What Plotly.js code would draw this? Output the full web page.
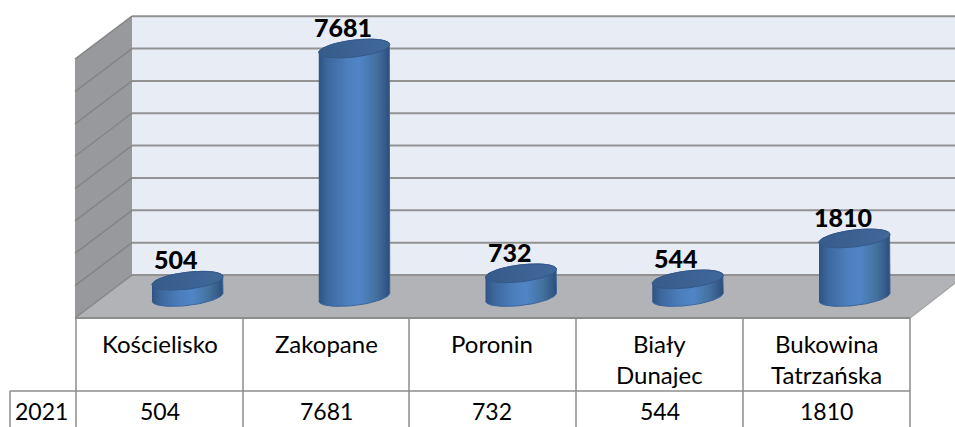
<!DOCTYPE html>
<html>
<head>
<meta charset="utf-8">
<script src="https://cdn.plot.ly/plotly-3.0.1.min.js"></script>
<style>html,body{margin:0;padding:0;background:#fff}#chart{width:955px;height:427px}</style>
</head>
<body>
<div id="chart"></div>
<script>
// ---- data ----
const categories = ["Kościelisko", "Zakopane", "Poronin", "Biały\nDunajec", "Bukowina\nTatrzańska"];
const seriesName = "2021";
const values = [504, 7681, 732, 544, 1810];
const gridValues = [0, 1000, 2000, 3000, 4000, 5000, 6000, 7000, 8000];

// ---- geometry (pixels) ----
const W = 955, H = 427;
const firstBarPx = 187.5, slotPx = 166.75, zeroPx = 297, pxPer1000 = 32.35;
const backFloorPx = 275, wallLeftPx = 132, frontLeftPx = 75, frontRightPx = 910, frontPx = 318;
const tableMidPx = 391, tableLeftPx = 10;
const rx = 35.5, ry = 8.5, tilt = 4;
const colLines = [76, 243, 409, 576, 743, 910];
const FONT = "Lato, Carlito, Calibri, sans-serif";

const unitsPerPx = 1000 / pxPer1000;
const px = p => p / W;             // paper x
const py = p => 1 - p / H;         // paper y
const xOff = p => p / slotPx;      // px -> x units
const yOff = p => p * unitsPerPx;  // px -> y units

const ellipse = (cx, cy, from, to, n) => {
  const xs = [], ys = [];
  for (let i = 0; i <= n; i++) {
    const t = (from + (to - from) * i / n) * Math.PI / 180;
    xs.push(cx + xOff(rx * Math.cos(t)));
    ys.push(cy + yOff(ry * Math.sin(t) + tilt * Math.cos(t)));
  }
  return [xs, ys];
};

const traces = [];
values.forEach((v, i) => {
  const [bx, by] = ellipse(i, 0, 180, 360, 40);
  const [tx, ty] = ellipse(i, v, 0, 180, 40);
  traces.push({
    type: "scatter", mode: "lines", name: seriesName, x: bx.concat(tx), y: by.concat(ty),
    fill: "toself", hoverinfo: "skip", showlegend: false,
    line: {color: "#3a659b", width: 1},
    fillgradient: {type: "horizontal", colorscale: [
      [0, "#2e5382"], [0.12, "#3c679d"], [0.4, "#4d7fbd"], [0.58, "#5084c5"],
      [0.8, "#44729f"], [0.93, "#365c8b"], [1, "#2b4d78"]]}
  });
  const [cx, cy] = ellipse(i, v, 0, 360, 60);
  traces.push({
    type: "scatter", mode: "lines", x: cx, y: cy, fill: "toself",
    hoverinfo: "skip", showlegend: false,
    line: {color: "#34588a", width: 1},
    fillgradient: {type: "horizontal", colorscale: [[0, "#365c8b"], [0.5, "#3b6291"], [1, "#40689a"]]}
  });
});

const poly = (pts, fill) => ({
  type: "path", xref: "paper", yref: "paper", layer: "below", line: {width: 0}, fillcolor: fill,
  path: pts.map((p, i) => (i ? "L" : "M") + px(p[0]) + "," + py(p[1])).join(" ") + " Z"
});
const seg = (x0, y0, x1, y1, color, width) => ({
  type: "line", xref: "paper", yref: "paper", layer: "below",
  x0: px(x0), y0: py(y0), x1: px(x1), y1: py(y1), line: {color, width}
});

const gridPx = v => backFloorPx - v * pxPer1000 / 1000;
const depthY = frontPx - backFloorPx;
const shapes = [
  poly([[wallLeftPx, gridPx(8000)], [W, gridPx(8000)], [W, backFloorPx], [wallLeftPx, backFloorPx]], "#e7ecf5"),
  poly([[frontLeftPx, gridPx(8000) + depthY], [wallLeftPx, gridPx(8000)], [wallLeftPx, backFloorPx], [frontLeftPx, frontPx]], "#98999c"),
  poly([[frontLeftPx, frontPx], [wallLeftPx, backFloorPx], [W, backFloorPx], [W, 283], [frontRightPx, frontPx]], "#b1b3b6")
];
gridValues.forEach(v => {
  const y = gridPx(v);
  shapes.push(seg(wallLeftPx, y, W, y, "#929292", 2));
  shapes.push(seg(frontLeftPx, y + depthY, wallLeftPx, y, "#858585", 1.5));
});
shapes.push(seg(frontRightPx, frontPx, W, 283, "#a6a6a6", 1.5));
// data table rules
shapes.push(seg(frontLeftPx, frontPx, frontRightPx, frontPx, "#8c8c8c", 2));
shapes.push(seg(tableLeftPx, tableMidPx, frontRightPx, tableMidPx, "#8c8c8c", 1.5));
shapes.push(seg(tableLeftPx, tableMidPx, tableLeftPx, H, "#8c8c8c", 1.5));
colLines.forEach(c => shapes.push(seg(c, frontPx, c, H, "#8c8c8c", 1.5)));

const annotations = [];
const tableText = (text, x, y, size) => annotations.push({
  xref: "paper", yref: "paper", x: px(x), y: py(y), text, showarrow: false,
  xanchor: "center", yanchor: "middle", font: {family: FONT, size, color: "#000"}
});
categories.forEach((c, i) => {
  const x = (colLines[i] + colLines[i + 1]) / 2;
  c.split("\n").forEach((line, k) => tableText(line, x, 343 + k * 31, 24));
  tableText(String(values[i]), x, 411, 23);
  // data label above the bar
  annotations.push({
    xref: "x", yref: "y", x: i, y: values[i], text: String(values[i]), showarrow: false,
    xanchor: "center", yanchor: "middle", xshift: -11.5, yshift: 21.5,
    font: {family: FONT, size: 25, color: "#000", weight: 900}
  });
});
tableText(seriesName, 41, 411, 23);

const layout = {
  width: W, height: H, margin: {l: 0, r: 0, t: 0, b: 0},
  paper_bgcolor: "#fff", plot_bgcolor: "rgba(0,0,0,0)", showlegend: false,
  xaxis: {visible: false, fixedrange: true, range: [-firstBarPx / slotPx, (W - firstBarPx) / slotPx]},
  yaxis: {visible: false, fixedrange: true, range: [yOff(zeroPx - H), yOff(zeroPx)]},
  shapes, annotations
};
Plotly.newPlot("chart", traces, layout, {displayModeBar: false, staticPlot: true});
</script>
</body>
</html>
